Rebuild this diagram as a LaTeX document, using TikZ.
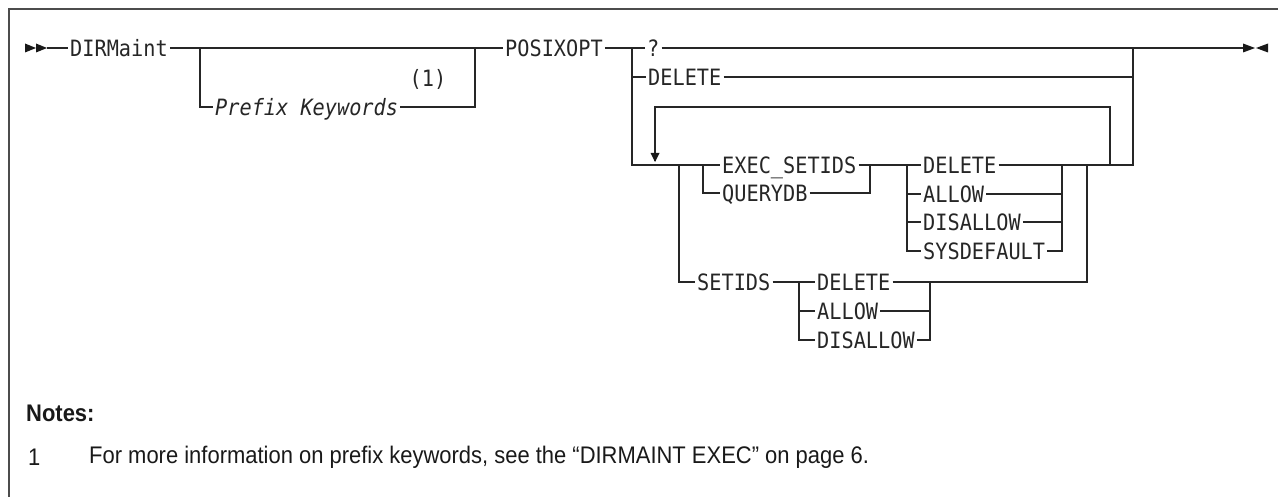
\documentclass[tikz,border=0pt]{standalone}
\usepackage{fontspec}
\usetikzlibrary{arrows.meta}
\newfontfamily\monofont{DejaVu Sans Mono}[FakeStretch=0.9]
\newfontfamily\notefont{Liberation Sans}[FakeStretch=0.915]
\begin{document}
\begin{tikzpicture}[x=1pt,y=-1pt,
  ln/.style={line width=1.3pt,black!85},
  kw/.style={anchor=west,inner xsep=2pt,inner ysep=0pt,text height=16.4pt,text depth=0pt,font=\fontsize{22.5}{26}\monofont,text=black!85},
  kwi/.style={kw,font=\fontsize{22.5}{26}\monofont\itshape},
  tri/.style={fill=black!90},
  note/.style={anchor=west,inner sep=0pt,font=\fontsize{24}{28}\notefont,text=black!90}]
\useasboundingbox (0,0) rectangle (1278,497);
% frame
\draw[line width=1.3pt,black!70] (9,497) -- (9,9) -- (1278,9);
% start arrows
\coordinate (s0) at (25,48);
\coordinate (s1) at (47,48);
\fill[tri] (25,43.5) -- (36,48) -- (25,52.5) -- cycle;
\fill[tri] (36,43.5) -- (47,48) -- (36,52.5) -- cycle;
% nodes
\node[kw] (dirm) at (68,48) {DIRMaint};
\node[kwi] (pk) at (213,107) {Prefix Keywords};
\node[kw,anchor=center] (n1) at (428,78) {(1)};
\node[kw] (posix) at (503,48) {POSIXOPT};
\node[kw] (q) at (645,48) {?};
\node[kw] (del1) at (646,77) {DELETE};
\node[kw] (exec) at (720,165) {EXEC\_SETIDS};
\node[kw] (qdb) at (720,193) {QUERYDB};
\node[kw] (del2) at (921,165) {DELETE};
\node[kw] (all2) at (921,194) {ALLOW};
\node[kw] (dis2) at (921,222) {DISALLOW};
\node[kw] (sys2) at (921,251) {SYSDEFAULT};
\node[kw] (set) at (695,282) {SETIDS};
\node[kw] (del3) at (815,282) {DELETE};
\node[kw] (all3) at (815,311) {ALLOW};
\node[kw] (dis3) at (815,340) {DISALLOW};
% coordinates
\coordinate (pA) at (200,48);
\coordinate (pB) at (200,107);
\coordinate (pC) at (475,107);
\coordinate (pD) at (475,48);
\coordinate (v1) at (632,48);
\coordinate (v1b) at (632,165);
\coordinate (jA) at (679,165);
\coordinate (jAb) at (679,282);
\coordinate (jB) at (703,165);
\coordinate (jBb) at (703,193);
\coordinate (jC) at (870,165);
\coordinate (jCb) at (870,193);
\coordinate (jD) at (907,165);
\coordinate (jDb) at (907,251);
\coordinate (jE) at (1062,165);
\coordinate (jEb) at (1062,251);
\coordinate (jF) at (1087,165);
\coordinate (jFb) at (1087,282);
\coordinate (jL) at (1110,165);
\coordinate (jLt) at (1110,107);
\coordinate (aT) at (655,107);
\coordinate (aB) at (655,161);
\coordinate (jR) at (1133,165);
\coordinate (jRt) at (1133,48);
\coordinate (jRd) at (1133,77);
\coordinate (e0) at (1243,48);
\coordinate (jG) at (799,282);
\coordinate (jGb) at (799,340);
\coordinate (jH) at (930,282);
\coordinate (jHb) at (930,340);
% main line
\draw[ln] (s1) -- (dirm.west);
\draw[ln] (dirm.east) -- (posix.west);
\draw[ln] (pA) -- (pB) -- (pk.west);
\draw[ln] (pk.east) -- (pC) -- (pD);
\draw[ln] (posix.east) -- (v1) -- (q.west);
\draw[ln] (q.east) -- (jRt) -- (e0);
\draw[ln] (v1) |- (del1.west);
\draw[ln] (del1.east) -- (jRd);
\draw[ln] (v1) -- (v1b) -- (jA) -- (jB) -- (exec.west);
\draw[ln] (jB) -- (jBb) -- (qdb.west);
\draw[ln] (exec.east) -- (jC) -- (jD) -- (del2.west);
\draw[ln] (qdb.east) -- (jCb) -- (jC);
\draw[ln] (jD) -- (jDb) -- (sys2.west);
\draw[ln] (jD |- all2.west) -- (all2.west);
\draw[ln] (jD |- dis2.west) -- (dis2.west);
\draw[ln] (del2.east) -- (jE) -- (jR) -- (jRt);
\draw[ln] (all2.east) -- (jE |- all2.east);
\draw[ln] (dis2.east) -- (jE |- dis2.east);
\draw[ln] (sys2.east) -- (jEb) -- (jE);
\draw[ln] (jL) -- (jLt) -- (aT) -- (aB);
\fill[tri] (650.5,153) -- (659.5,153) -- (655,162) -- cycle;
\draw[ln] (jA) -- (jAb) -- (set.west);
\draw[ln] (set.east) -- (jG) -- (del3.west);
\draw[ln] (jG) -- (jGb) -- (dis3.west);
\draw[ln] (jG |- all3.west) -- (all3.west);
\draw[ln] (del3.east) -- (jH) -- (jFb) -- (jF);
\draw[ln] (all3.east) -- (jH |- all3.east);
\draw[ln] (dis3.east) -- (jHb) -- (jH);
% end arrows
\fill[tri] (1243,43.5) -- (1255,48) -- (1243,52.5) -- cycle;
\fill[tri] (1268,43.5) -- (1256,48) -- (1268,52.5) -- cycle;
% notes
\node[note,font=\fontsize{24}{28}\notefont\bfseries] (notes) at (26,413) {Notes:};
\node[note] (num) at (28,457) {1};
\node[note] (txt) at (89,457) {For more information on prefix keywords, see the “DIRMAINT EXEC” on page 6.};
\end{tikzpicture}
\end{document}
